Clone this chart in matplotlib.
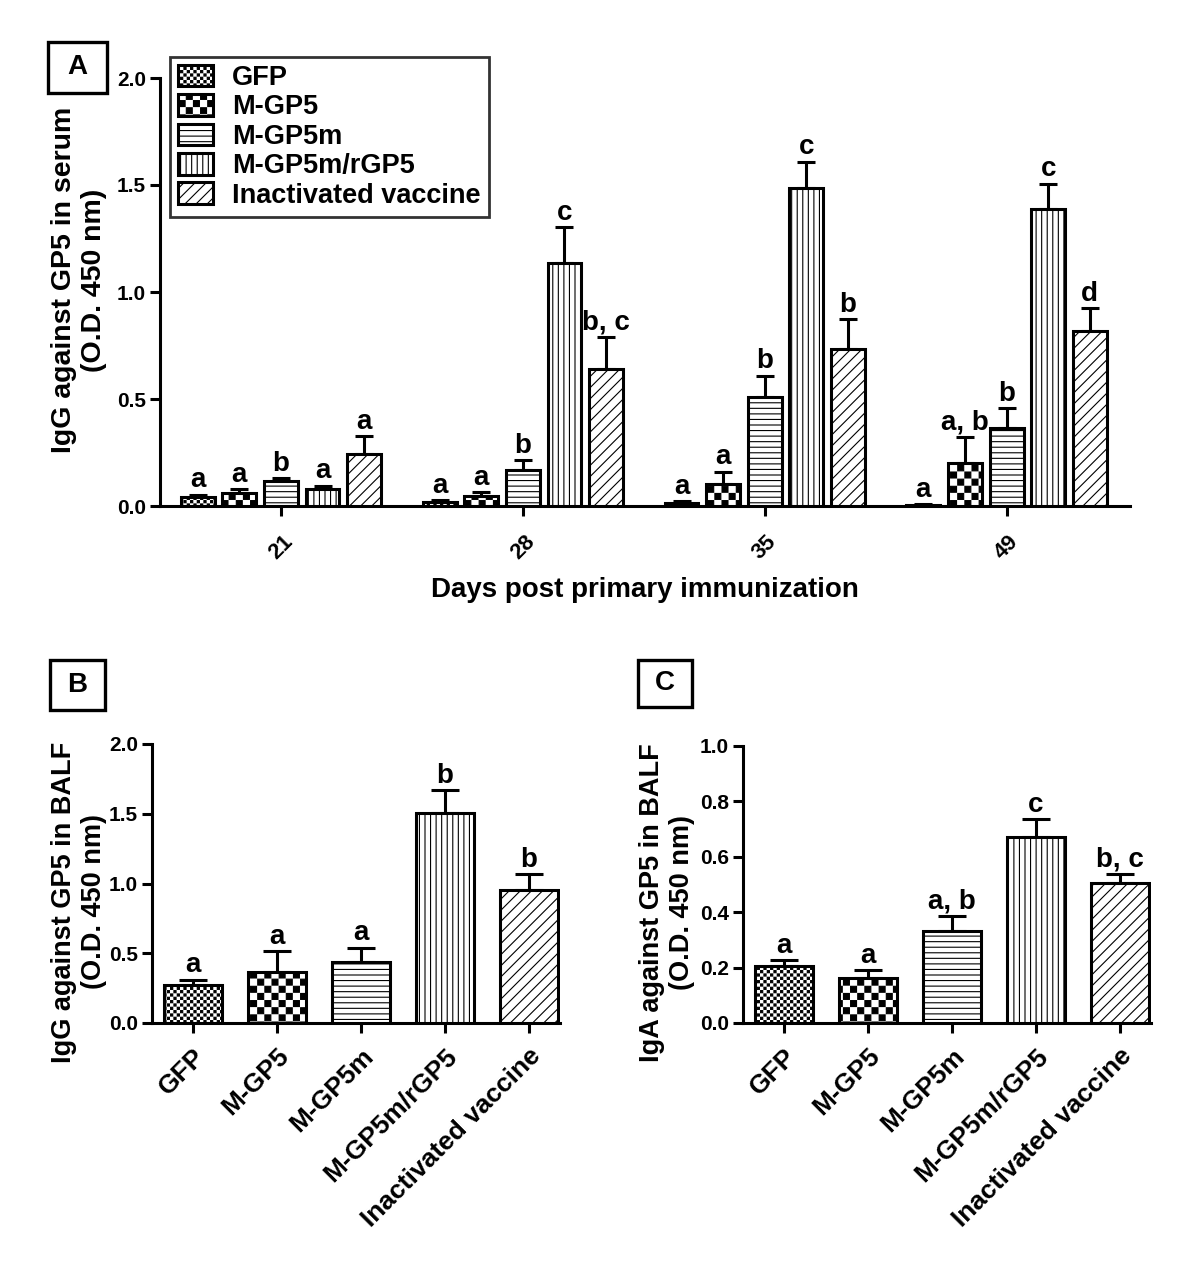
"""Antibody responses against GP5: serum IgG by day, BALF IgG and IgA."""

import warnings
import numpy as np
import matplotlib

matplotlib.use("agg")
import matplotlib.pyplot as plt
from matplotlib import hatch as mhatch
from matplotlib.path import Path
from matplotlib.patches import Rectangle
from matplotlib import rcParams

warnings.filterwarnings("ignore")

rcParams["font.family"] = ["Liberation Sans", "DejaVu Sans"]
rcParams["font.weight"] = "bold"
rcParams["hatch.linewidth"] = 0.8
rcParams["axes.linewidth"] = 2.2

# ---- data -------------------------------------------------------------
groups = ["GFP", "M-GP5", "M-GP5m", "M-GP5m/rGP5", "Inactivated vaccine"]
days = ["21", "28", "35", "49"]

# panel A, rows = group, cols = day
serum_igg = [
    [0.040, 0.020, 0.015, 0.005],
    [0.060, 0.045, 0.105, 0.200],
    [0.115, 0.170, 0.508, 0.366],
    [0.080, 1.135, 1.486, 1.388],
    [0.245, 0.638, 0.733, 0.817],
]
serum_igg_err = [
    [0.012, 0.008, 0.008, 0.003],
    [0.018, 0.020, 0.056, 0.122],
    [0.015, 0.045, 0.100, 0.090],
    [0.015, 0.168, 0.122, 0.118],
    [0.082, 0.152, 0.140, 0.108],
]
serum_letters = [
    ["a", "a", "a", "a"],
    ["a", "a", "a", "a, b"],
    ["b", "b", "b", "b"],
    ["a", "c", "c", "c"],
    ["a", "b, c", "b", "d"],
]

balf_igg = [0.270, 0.365, 0.440, 1.505, 0.953]
balf_igg_err = [0.040, 0.150, 0.100, 0.165, 0.115]
balf_igg_letters = ["a", "a", "a", "b", "b"]

balf_iga = [0.206, 0.163, 0.333, 0.671, 0.506]
balf_iga_err = [0.021, 0.028, 0.053, 0.065, 0.031]
balf_iga_letters = ["a", "a", "a, b", "c", "b, c"]

# "k" = fine checker, "c" = coarse checker (custom hatch below)
hatches = ["k", "c", "---", "|||", "///"]


class CheckerHatch(mhatch.HatchPatternBase):
    """Filled checkerboard squares, fine ('k') or coarse ('c')."""

    def __init__(self, hatch, density):
        if "k" in hatch:
            self.cells = 30
        elif "c" in hatch:
            self.cells = 14
        else:
            self.cells = 0
        self.num_vertices = (self.cells * self.cells // 2) * 5

    def set_vertices_and_codes(self, vertices, codes):
        step = 1.0 / self.cells
        pad = 0.006
        sq = np.array([[0, 0], [1, 0], [1, 1], [0, 1], [0, 0]]) * (step - 2 * pad) + pad
        parts = []
        for i in range(self.cells):
            for j in range(self.cells):
                if (i + j) % 2 == 0:
                    parts.append(sq + [i * step, j * step])
        vertices[:] = np.concatenate(parts)
        codes[:] = np.tile(
            [Path.MOVETO, Path.LINETO, Path.LINETO, Path.LINETO, Path.CLOSEPOLY],
            len(parts),
        )


mhatch._hatch_types.append(CheckerHatch)


def style_axis(ax):
    for side in ["top", "right"]:
        ax.spines[side].set_visible(False)
    ax.tick_params(direction="out", length=7, width=2.2)
    ax.tick_params(axis="y", labelsize=15, pad=3)
    for lab in ax.get_yticklabels():
        lab.set_fontweight("bold")


def letter_above(ax, x, top, txt, size=20):
    ax.annotate(
        txt,
        (x, top),
        xytext=(0, 1),
        textcoords="offset points",
        ha="center",
        va="bottom",
        fontsize=size,
        fontweight="bold",
    )


W, H = 1200.0, 1286.0


def panel_tag(fig, x0, y0, x1, y1, txt):
    # box given in pixel coords from the top left
    fig.patches.append(
        Rectangle(
            (x0 / W, 1 - y1 / H),
            (x1 - x0) / W,
            (y1 - y0) / H,
            transform=fig.transFigure,
            fill=False,
            ec="black",
            lw=2.4,
        )
    )
    fig.text(
        (x0 + x1) / 2 / W,
        1 - (y0 + y1) / 2 / H,
        txt,
        fontsize=20,
        fontweight="bold",
        ha="center",
        va="center",
    )


fig = plt.figure(figsize=(12, 12.86), dpi=100)

# ---- panel A ----------------------------------------------------------
axA = fig.add_axes([160 / W, 1 - 506 / H, 970 / W, 428 / H])
x_days = np.arange(len(days))
step, width = 0.172, 0.14
for gi, name in enumerate(groups):
    xs = x_days + (gi - 2) * step
    axA.bar(
        xs,
        serum_igg[gi],
        width=width,
        color="white",
        edgecolor="black",
        linewidth=2.2,
        hatch=hatches[gi],
        label=name,
        zorder=3,
    )
    axA.errorbar(
        xs,
        serum_igg[gi],
        yerr=[np.zeros(len(days)), serum_igg_err[gi]],
        fmt="none",
        ecolor="black",
        elinewidth=2.2,
        capsize=6.5,
        capthick=2.2,
        zorder=2,
    )
    for di in range(len(days)):
        letter_above(
            axA,
            xs[di],
            serum_igg[gi][di] + serum_igg_err[gi][di],
            serum_letters[gi][di],
        )

axA.set_xlim(-0.5, 3.51)
axA.set_ylim(0, 2.0)
axA.set_yticks(np.arange(0, 2.01, 0.5))
axA.set_yticklabels(["%.1f" % v for v in np.arange(0, 2.01, 0.5)])
axA.set_xticks(x_days)
axA.set_xticklabels(days, rotation=45, fontweight="bold")
style_axis(axA)
axA.tick_params(axis="x", labelsize=16, pad=11)
axA.set_xlabel("Days post primary immunization", fontsize=20, fontweight="bold", labelpad=10)
axA.set_ylabel("IgG against GP5 in serum\n(O.D. 450 nm)", fontsize=20.5, fontweight="bold")
axA.yaxis.set_label_coords(-0.055, 0.528)
leg = axA.legend(
    loc="upper left",
    bbox_to_anchor=(0.01, 1.05),
    fontsize=19.5,
    frameon=True,
    fancybox=False,
    handlelength=1.3,
    handleheight=0.85,
    handletextpad=0.7,
    labelspacing=0.12,
    borderpad=0.3,
    borderaxespad=0,
)
leg.get_frame().set_edgecolor("black")
leg.get_frame().set_linewidth(2.0)
for t in leg.get_texts():
    t.set_fontweight("bold")


# ---- panels B and C ---------------------------------------------------
def group_panel(ax, vals, errs, letters, ymax, ystep, ylabel, label_x):
    xs = np.arange(len(groups))
    ax.bar(
        xs,
        vals,
        width=0.69,
        color="white",
        edgecolor="black",
        linewidth=2.2,
        hatch=hatches,
        zorder=3,
    )
    ax.errorbar(
        xs,
        vals,
        yerr=[np.zeros(len(vals)), errs],
        fmt="none",
        ecolor="black",
        elinewidth=2.2,
        capsize=10,
        capthick=2.2,
        zorder=2,
    )
    for i in range(len(vals)):
        letter_above(ax, xs[i], vals[i] + errs[i], letters[i])
    ax.set_xlim(-0.49, 4.37)
    ax.set_ylim(0, ymax)
    ticks = np.arange(0, ymax + 1e-6, ystep)
    ax.set_yticks(ticks)
    ax.set_yticklabels(["%.1f" % v for v in ticks])
    ax.set_xticks(xs)
    ax.set_xticklabels(
        groups, rotation=45, ha="right", rotation_mode="anchor", fontweight="bold"
    )
    style_axis(ax)
    ax.tick_params(axis="x", labelsize=19, pad=8)
    ax.set_ylabel(ylabel, fontsize=19.5, fontweight="bold")
    ax.yaxis.set_label_coords(label_x, 0.434)


axB = fig.add_axes([152 / W, 1 - 1023 / H, 408 / W, 279 / H])
group_panel(
    axB, balf_igg, balf_igg_err, balf_igg_letters, 2.0, 0.5,
    "IgG against GP5 in BALF\n(O.D. 450 nm)", -0.11,
)
axC = fig.add_axes([743 / W, 1 - 1023 / H, 408 / W, 277 / H])
group_panel(
    axC, balf_iga, balf_iga_err, balf_iga_letters, 1.0, 0.2,
    "IgA against GP5 in BALF\n(O.D. 450 nm)", -0.118,
)

panel_tag(fig, 48, 42, 107, 93, "A")
panel_tag(fig, 50, 660, 105, 710, "B")
panel_tag(fig, 638, 660, 692, 707, "C")

plt.savefig("out.png", dpi=100)
plt.close(fig)
